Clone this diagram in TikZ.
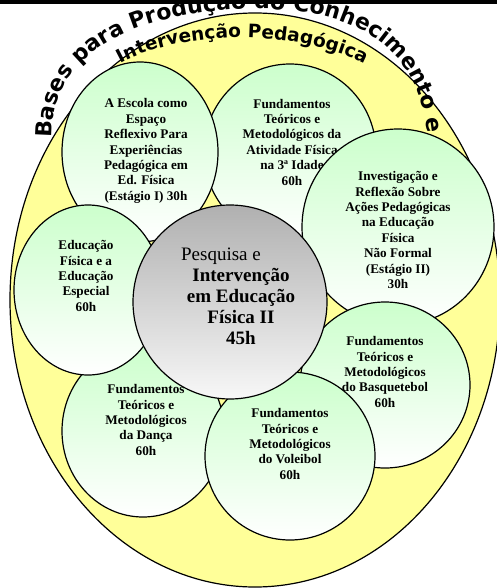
\documentclass[tikz,border=0pt]{standalone}
\usepackage{fontspec}
\setmainfont{Liberation Serif}
\newfontfamily\heavyfont{DejaVu Sans Bold}
\usetikzlibrary{shapes.geometric,decorations.text,positioning}
\definecolor{mint}{HTML}{CCFFCC}
\definecolor{sand}{HTML}{FFFF99}
\definecolor{coregray}{HTML}{B0B0B0}
\begin{document}
\begin{tikzpicture}[x=1pt,y=-1pt,
    blob/.style={ellipse,draw=black,line width=1.2pt,top color=mint,bottom color=white,inner sep=0pt},
    core/.style={circle,draw=black,line width=1.2pt,top color=coregray,bottom color=white!97!black,inner sep=0pt},
    blurb/.style={align=center,inner sep=0pt,font=\bfseries\fontsize{13.2}{15.4}\selectfont}]
    \useasboundingbox (0,0) rectangle (497,588);
    \clip (0,0) rectangle (497,588);
    %% Outer ring
    \node[ellipse,draw=black,line width=1.2pt,fill=sand,inner sep=0pt,
        minimum width=490pt,minimum height=574pt] (ring) at (255,300) {};
    %% Titles along the ring
    \path[decorate,decoration={text along path,
        text={|\heavyfont\fontsize{22}{22}\selectfont|Bases para Produção do Conhecimento e}}]
        (52,138) .. controls (50,45) and (150,9) .. (260,9)
        .. controls (370,9) and (425,60) .. (428,145);
    \path[decorate,decoration={text along path,text align=center,
        text={|\heavyfont\fontsize{18.5}{18.5}\selectfont|Intervenção Pedagógica}}]
        (116,66) .. controls (180,28) and (300,28) .. (369,66);
    %% Disciplines
    \node[blob,minimum width=172pt,minimum height=176pt] (idade) at (290,152) {};
    \node[blurb] (idadeTxt) at (292,142)
        {Fundamentos\\Teóricos e\\Metodológicos da\\Atividade Física\\na 3ª Idade\\60h};
    \node[blob,minimum width=156pt,minimum height=180pt] (escola) at (140,152) {};
    \node[blurb] (escolaTxt) at (146,151)
        {A Escola como\\Espaço\\Reflexivo Para\\Experiências\\Pedagógica em\\Ed. Física\\(Estágio I) 30h};
    \node[blob,minimum width=192pt,minimum height=196pt] (invest) at (398,227) {};
    \node[blurb] (investTxt) at (398,230)
        {Investigação e\\Reflexão Sobre\\Ações Pedagógicas\\na Educação\\Física\\Não Formal\\(Estágio II)\\30h};
    \node[blob,minimum width=170pt,minimum height=166pt] (basq) at (385,385) {};
    \node[blurb] (basqTxt) at (385,372)
        {Fundamentos\\Teóricos e\\Metodológicos\\do Basquetebol\\60h};
    \node[blob,minimum width=162pt,minimum height=172pt] (danca) at (143,431) {};
    \node[blurb] (dancaTxt) at (146,420)
        {Fundamentos\\Teóricos e\\Metodológicos\\da Dança\\60h};
    \node[blob,minimum width=170pt,minimum height=168pt] (volei) at (290,456) {};
    \node[blurb] (voleiTxt) at (290,444)
        {Fundamentos\\Teóricos e\\Metodológicos\\do Voleibol\\60h};
    \node[blob,minimum width=148pt,minimum height=170pt] (especial) at (88,290) {};
    \node[blurb] (especialTxt) at (86,276)
        {Educação\\Física e a\\Educação\\Especial\\60h};
    %% Centre
    \node[core,minimum size=194pt] (pesq) at (230,302) {};
    \node[align=center,inner sep=0pt,font=\fontsize{19}{21}\selectfont] (pesqTxt) at (241,296)
        {Pesquisa e\hspace*{40pt}\\\textbf{Intervenção}\\\textbf{em Educação}\\\textbf{Física II}\\\textbf{45h}};
    %% Page rule
    \fill (0,0) rectangle (497,4);
\end{tikzpicture}
\end{document}
